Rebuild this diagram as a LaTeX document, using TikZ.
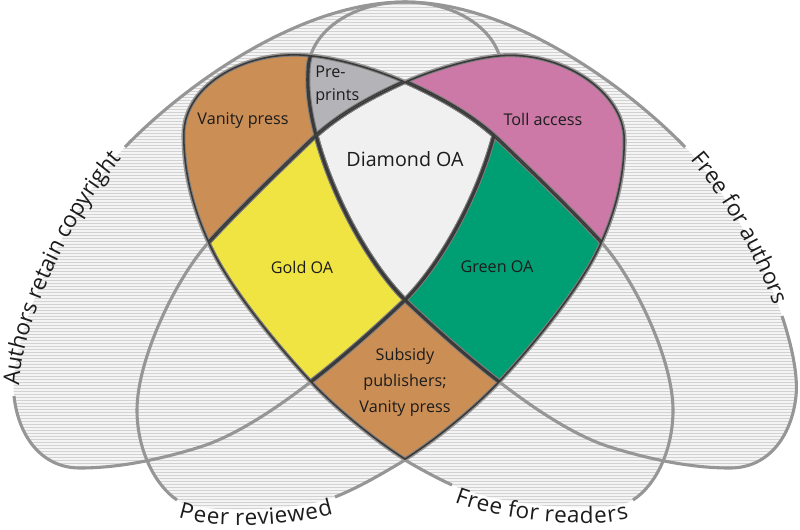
\documentclass[tikz,border=0pt]{standalone}
\usepackage{fontspec}
\setmainfont{Open Sans}
\usetikzlibrary{decorations.text}

% rim of each set without the stretch that carries its label, then the whole set
\newcommand{\rimCopyright}{(125,147) .. controls (185,85) and (300,2) .. (405,2) .. controls (458,2) and (502,32) .. (502,72) .. controls (506,140) and (455,250) .. (405,300) .. controls (365,338) and (270,425) .. (200,447) .. controls (155,461) and (115,468) .. (80,468) .. controls (40,468) and (18,434) .. (14,396)}
\newcommand{\setCopyright}{\rimCopyright .. controls (8,340) and (65,210) .. (125,147) -- cycle}
\newcommand{\gapCopyright}{(14,396) .. controls (8,340) and (65,210) .. (125,147)}

\newcommand{\rimPeer}{(177,500) .. controls (155,485) and (137,450) .. (137,410) .. controls (137,360) and (175,280) .. (208,243) .. controls (240,208) and (285,165) .. (310,141) .. controls (335,117) and (365,100) .. (397,85) .. controls (433,68) and (475,57) .. (500,55) .. controls (560,50) and (625,90) .. (625,140) .. controls (625,180) and (615,215) .. (600,247) .. controls (580,290) and (530,350) .. (497,385) .. controls (470,413) and (432,443) .. (405,460) .. controls (385,472) and (360,487) .. (335,497)}
\newcommand{\setPeer}{\rimPeer .. controls (300,511) and (200,515) .. (177,500) -- cycle}
\newcommand{\gapPeer}{(177,500) .. controls (200,515) and (300,511) .. (335,497)}

\newcommand{\rimReaders}{(633,500) .. controls (656,485) and (673,450) .. (673,410) .. controls (673,360) and (635,280) .. (602,243) .. controls (570,208) and (525,165) .. (500,141) .. controls (475,117) and (445,100) .. (413,85) .. controls (377,68) and (335,57) .. (310,55) .. controls (250,48) and (183,82) .. (183,135) .. controls (183,178) and (195,215) .. (210,247) .. controls (230,290) and (280,350) .. (313,385) .. controls (340,413) and (378,443) .. (405,460) .. controls (420,469) and (437,478) .. (452,485)}
\newcommand{\setReaders}{\rimReaders .. controls (500,507) and (610,515) .. (633,500) -- cycle}
\newcommand{\gapReaders}{(452,485) .. controls (500,507) and (610,515) .. (633,500)}

\newcommand{\rimAuthors}{(782,316) .. controls (792.5,347.7) and (798,376) .. (796,396) .. controls (792,434) and (770,468) .. (730,468) .. controls (695,468) and (655,461) .. (610,447) .. controls (540,425) and (445,338) .. (405,300) .. controls (355,250) and (304,140) .. (308,72) .. controls (308,32) and (352,2) .. (405,2) .. controls (510,2) and (625,85) .. (685,147)}
\newcommand{\setAuthors}{\rimAuthors .. controls (724,188) and (762,257) .. (782,316) -- cycle}
\newcommand{\gapAuthors}{(685,147) .. controls (724,188) and (762,257) .. (782,316)}

\begin{document}
\begin{tikzpicture}[x=0.025cm, y=-0.025cm,
    hatchline/.style={line width=0.55pt, draw=hatchgray},
    setrim/.style={line width=2.2pt, draw=rimgray},
    regionhalo/.style={line width=3.6pt, draw=halogray},
    regionedge/.style={line width=2.2pt, draw=edgegray},
    regiontext/.style={font=\fontsize{11.5}{18.5}\selectfont, text=inkblack, inner sep=0pt, align=center},
    sidetext/.style={decorate, decoration={text along path, text align=center,
        text color=inkblack, text={|\fontsize{16}{19}\selectfont|#1}}}]
    \useasboundingbox (0,0) rectangle (800,529);

    \definecolor{hatchback}{RGB}{244,244,244}%
    \definecolor{hatchgray}{RGB}{210,210,210}%
    \definecolor{rimgray}{RGB}{150,150,150}%
    \definecolor{halogray}{RGB}{128,128,128}%
    \definecolor{edgegray}{RGB}{58,58,58}%
    \definecolor{inkblack}{RGB}{28,28,28}%
    \definecolor{vanitytan}{RGB}{203,142,85}%
    \definecolor{preprintgray}{RGB}{180,180,184}%
    \definecolor{diamondwhite}{RGB}{240,240,240}%
    \definecolor{tollpink}{RGB}{204,121,167}%
    \definecolor{goldyellow}{RGB}{240,228,66}%
    \definecolor{greengreen}{RGB}{0,158,115}%

    % Hatching of the four sets
    \foreach \s in {\setCopyright,\setPeer,\setReaders,\setAuthors}
        \fill[hatchback] \s;
    \foreach \s in {\setCopyright,\setPeer,\setReaders,\setAuthors} {
        \begin{scope}
            \clip \s;
            \foreach \y in {1.5,4.5,...,528}
                \draw[hatchline] (0,\y) -- (800,\y);
        \end{scope}
    }

    % Drawing rims of the sets
    \draw[setrim] \rimCopyright;
    \draw[setrim] \rimPeer;
    \draw[setrim] \rimReaders;
    \draw[setrim] \rimAuthors;

    % Filling regions, later fills cover earlier ones
    \begin{scope}\clip \setCopyright; \fill[vanitytan] \setReaders; \end{scope}
    \begin{scope}\clip \setCopyright; \clip \setReaders; \fill[preprintgray] \setAuthors; \end{scope}
    \begin{scope}\clip \setPeer; \fill[tollpink] \setAuthors; \end{scope}
    \begin{scope}\clip \setPeer; \fill[vanitytan] \setReaders; \end{scope}
    \begin{scope}\clip \setCopyright; \clip \setPeer; \fill[goldyellow] \setReaders; \end{scope}
    \begin{scope}\clip \setPeer; \clip \setReaders; \fill[greengreen] \setAuthors; \end{scope}
    \begin{scope}\clip \setCopyright; \clip \setPeer; \clip \setReaders; \fill[diamondwhite] \setAuthors; \end{scope}

    % Drawing edges of the coloured regions
    \begin{scope}
        \clip \setCopyright; \clip \setReaders;
        \draw[regionhalo] \setCopyright \setPeer \setReaders \setAuthors;
        \draw[regionedge] \setCopyright \setPeer \setReaders \setAuthors;
    \end{scope}
    \begin{scope}
        \clip \setPeer; \clip \setAuthors;
        \draw[regionhalo] \setPeer \setReaders \setAuthors;
        \draw[regionedge] \setPeer \setReaders \setAuthors;
    \end{scope}
    \begin{scope}
        \clip \setPeer; \clip \setReaders;
        \draw[regionhalo] \setCopyright \setPeer \setReaders \setAuthors;
        \draw[regionedge] \setCopyright \setPeer \setReaders \setAuthors;
    \end{scope}

    % Marking regions
    \node[regiontext] (vanity) at (243,120) {Vanity press};
    \node[regiontext, font=\fontsize{11.5}{16.4}\selectfont, align=left, anchor=west] (preprints) at (315,85) {Pre-\\prints};
    \node[regiontext, font=\fontsize{14}{17}\selectfont] (diamond) at (405,159) {Diamond OA};
    \node[regiontext] (toll) at (543,119) {Toll access};
    \node[regiontext] (gold) at (302,267) {Gold OA};
    \node[regiontext] (green) at (497,267) {Green OA};
    \node[regiontext] (subsidy) at (405,382) {Subsidy\\publishers;\\Vanity press};

    % Marking sets along their rims
    \path[sidetext={Authors retain copyright}, decoration={raise=-4pt}] \gapCopyright;
    \path[sidetext={Free for authors}, decoration={raise=-3pt}] \gapAuthors;
    \path[sidetext={Peer reviewed}, decoration={raise=-11pt}] \gapPeer;
    \path[sidetext={Free for readers}, decoration={raise=-11pt}] \gapReaders;
\end{tikzpicture}
\end{document}
